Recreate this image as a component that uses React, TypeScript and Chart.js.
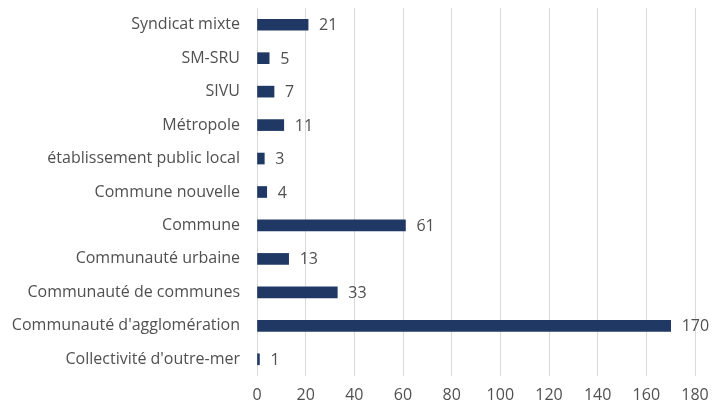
import React, { useEffect, useRef } from "react";
import { Chart, registerables } from "chart.js";

Chart.register(...registerables);

const categories = [
  "Syndicat mixte",
  "SM-SRU",
  "SIVU",
  "Métropole",
  "établissement public local",
  "Commune nouvelle",
  "Commune",
  "Communauté urbaine",
  "Communauté de communes",
  "Communauté d'agglomération",
  "Collectivité d'outre-mer",
];
const values = [21, 5, 7, 11, 3, 4, 61, 13, 33, 170, 1];
const xTicks = [0, 20, 40, 60, 80, 100, 120, 140, 160, 180];

const FONT = "'Open Sans'";
const SIZE = 16;
const TEXT = "#505050";

const labelPlugin = {
  id: "barLabels",
  afterDatasetsDraw(chart: any) {
    const ctx = chart.ctx;
    const meta = chart.getDatasetMeta(0);
    ctx.save();
    ctx.font = `${SIZE}px ${FONT}`;
    ctx.fillStyle = TEXT;
    ctx.textAlign = "left";
    ctx.textBaseline = "middle";
    meta.data.forEach((el: any, i: number) => {
      ctx.fillText(String(values[i]), el.x + 11, el.y + 1);
    });
    ctx.restore();
  },
};

export default function App() {
  const ref = useRef<HTMLCanvasElement>(null);
  useEffect(() => {
    document.body.style.margin = "0";
    const chart = new Chart(ref.current!, {
      type: "bar",
      data: {
        labels: categories,
        datasets: [
          {
            data: values,
            backgroundColor: "#1f3864",
            barThickness: 11,
          },
        ],
      },
      options: {
        indexAxis: "y",
        animation: false,
        responsive: false,
        maintainAspectRatio: false,
        layout: { padding: { top: 8, right: 28, left: 0, bottom: 0 } },
        plugins: { legend: { display: false }, tooltip: { enabled: false } },
        scales: {
          x: {
            min: 0,
            max: 180,
            afterBuildTicks: (s: any) => {
              s.ticks = xTicks.map((v) => ({ value: v }));
            },
            grid: { color: "#d9d9d9", drawTicks: false },
            border: { display: false },
            ticks: { padding: 10, color: TEXT, font: { family: FONT, size: SIZE } },
            afterFit: (s: any) => {
              s.height = 31;
              s.paddingLeft = 0;
              s.paddingRight = 0;
            },
          },
          y: {
            grid: { display: false, drawTicks: false },
            border: { display: false },
            ticks: { padding: 17, color: TEXT, font: { family: FONT, size: SIZE } },
            afterFit: (s: any) => {
              s.width = 257;
              s.paddingTop = 0;
              s.paddingBottom = 0;
            },
          },
        },
      },
      plugins: [labelPlugin],
    });
    return () => chart.destroy();
  }, []);
  return (
    <div style={{ position: "fixed", left: 0, top: 0, width: 723, height: 407, background: "#fff" }}>
      <canvas ref={ref} width={723} height={407} style={{ width: 723, height: 407 }} />
    </div>
  );
}
